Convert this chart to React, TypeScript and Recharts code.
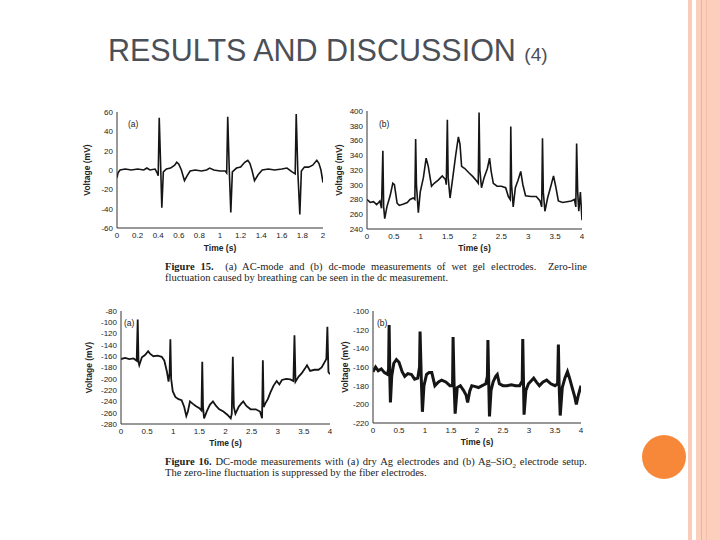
import { LineChart, Line, XAxis, YAxis } from 'recharts';

// Figure 15 (a): AC-mode, wet gel electrodes
const acTime = [0, 0.01, 0.03, 0.08, 0.14, 0.2, 0.26, 0.29, 0.32, 0.37, 0.39, 0.4, 0.41, 0.425, 0.435, 0.45, 0.48, 0.52, 0.56, 0.58, 0.6, 0.625, 0.655, 0.68, 0.71, 0.76, 0.82, 0.87, 0.9, 0.94, 1.0, 1.05, 1.065, 1.075, 1.09, 1.105, 1.12, 1.16, 1.2, 1.24, 1.27, 1.29, 1.31, 1.335, 1.37, 1.41, 1.47, 1.53, 1.6, 1.65, 1.7, 1.73, 1.74, 1.755, 1.775, 1.79, 1.82, 1.86, 1.9, 1.94, 1.96, 1.98, 2.0];
const acVolt = [-8, -3, 0, 1, 0, 1, 0, 2, 0, 1, -3, -6, 54, 0, -39, -2, 1, 2, 5, 8, 6, 0, -11, -6, -1, 0, -1, 0, 2, 0, -1, -1, -3, 55, 0, -44, -2, 2, 3, 8, 10, 7, 0, -11, -5, 0, 1, 0, 1, 2, -2, -4, 58, 0, -46, -1, 3, 3, 5, 10, 7, 0, -13];

// Figure 15 (b): dc-mode, wet gel electrodes
const dcTime = [0, 0.06, 0.12, 0.18, 0.24, 0.27, 0.295, 0.31, 0.33, 0.37, 0.43, 0.48, 0.51, 0.56, 0.6, 0.68, 0.75, 0.8, 0.86, 0.89, 0.905, 0.92, 0.955, 0.99, 1.05, 1.1, 1.14, 1.2, 1.25, 1.32, 1.4, 1.46, 1.475, 1.495, 1.51, 1.545, 1.6, 1.65, 1.7, 1.73, 1.76, 1.82, 1.9, 1.97, 2.04, 2.07, 2.085, 2.1, 2.13, 2.18, 2.24, 2.28, 2.31, 2.35, 2.42, 2.5, 2.58, 2.63, 2.665, 2.675, 2.69, 2.72, 2.76, 2.81, 2.86, 2.9, 2.95, 3.05, 3.15, 3.22, 3.25, 3.265, 3.28, 3.31, 3.36, 3.42, 3.47, 3.51, 3.56, 3.64, 3.72, 3.8, 3.86, 3.885, 3.9, 3.92, 3.94, 3.97, 4.0];
const dcVolt = [280, 276, 277, 273, 278, 268, 346, 270, 254, 270, 285, 302, 300, 275, 272, 274, 276, 280, 282, 280, 362, 300, 262, 290, 310, 336, 325, 298, 302, 306, 312, 307, 300, 388, 310, 282, 312, 340, 365, 355, 325, 322, 316, 311, 305, 302, 398, 320, 296, 310, 322, 336, 318, 302, 298, 298, 296, 284, 280, 379, 300, 270, 296, 306, 318, 300, 285, 284, 284, 278, 270, 363, 290, 264, 282, 298, 312, 298, 278, 276, 277, 278, 280, 270, 356, 290, 264, 290, 252];

// Figure 16 (a): dry Ag electrodes
const agTime = [0, 0.08, 0.16, 0.24, 0.3, 0.32, 0.335, 0.35, 0.4, 0.46, 0.52, 0.56, 0.62, 0.7, 0.78, 0.83, 0.88, 0.91, 0.93, 0.945, 0.96, 0.99, 1.04, 1.1, 1.16, 1.21, 1.25, 1.28, 1.32, 1.37, 1.43, 1.5, 1.54, 1.555, 1.57, 1.59, 1.64, 1.7, 1.76, 1.82, 1.88, 1.96, 2.04, 2.1, 2.12, 2.14, 2.16, 2.19, 2.25, 2.3, 2.34, 2.4, 2.48, 2.58, 2.66, 2.7, 2.715, 2.73, 2.76, 2.81, 2.86, 2.92, 2.98, 3.03, 3.08, 3.16, 3.24, 3.3, 3.32, 3.34, 3.4, 3.46, 3.52, 3.56, 3.62, 3.7, 3.78, 3.84, 3.9, 3.93, 3.95, 3.97, 4.0];
const agVolt = [-165, -163, -165, -164, -168, -95, -170, -176, -162, -158, -151, -156, -160, -159, -161, -168, -188, -205, -190, -130, -200, -222, -232, -236, -238, -250, -266, -258, -240, -244, -248, -252, -256, -170, -250, -270, -258, -246, -240, -248, -254, -258, -264, -270, -262, -161, -250, -262, -250, -244, -240, -248, -254, -254, -258, -270, -167, -250, -244, -236, -224, -212, -204, -210, -202, -200, -201, -204, -123, -205, -196, -190, -182, -176, -186, -184, -184, -180, -170, -165, -108, -188, -192];

// Figure 16 (b): Ag-SiO2 electrode setup
const sioTime = [0, 0.05, 0.1, 0.16, 0.22, 0.28, 0.3, 0.31, 0.325, 0.335, 0.36, 0.4, 0.45, 0.5, 0.56, 0.61, 0.67, 0.74, 0.8, 0.86, 0.895, 0.905, 0.93, 0.95, 0.98, 1.03, 1.08, 1.13, 1.19, 1.26, 1.32, 1.4, 1.48, 1.53, 1.54, 1.56, 1.58, 1.62, 1.68, 1.74, 1.79, 1.82, 1.86, 1.9, 1.97, 2.03, 2.1, 2.17, 2.2, 2.21, 2.225, 2.24, 2.27, 2.31, 2.36, 2.39, 2.43, 2.5, 2.58, 2.66, 2.74, 2.82, 2.87, 2.88, 2.895, 2.905, 2.94, 2.99, 3.04, 3.09, 3.14, 3.2, 3.27, 3.34, 3.42, 3.5, 3.55, 3.565, 3.58, 3.6, 3.64, 3.69, 3.74, 3.78, 3.83, 3.88, 3.91, 3.95, 4.0];
const sioVolt = [-165, -160, -164, -162, -166, -168, -162, -115, -175, -198, -170, -156, -152, -155, -165, -170, -167, -168, -173, -172, -160, -122, -175, -208, -180, -168, -166, -166, -180, -176, -174, -176, -180, -180, -128, -180, -210, -182, -180, -185, -190, -198, -186, -180, -181, -182, -180, -178, -170, -131, -175, -213, -185, -176, -170, -168, -178, -180, -180, -179, -180, -180, -175, -130, -180, -211, -185, -178, -175, -172, -176, -180, -176, -174, -178, -180, -178, -136, -180, -212, -182, -172, -165, -172, -182, -192, -200, -190, -180];

const ticks2s = [0, 0.2, 0.4, 0.6, 0.8, 1, 1.2, 1.4, 1.6, 1.8, 2];
const ticks4s = [0, 0.5, 1, 1.5, 2, 2.5, 3, 3.5, 4];
const acTicks = [-60, -40, -20, 0, 20, 40, 60];
const dcTicks = [240, 260, 280, 300, 320, 340, 360, 380, 400];
const agTicks = [-280, -260, -240, -220, -200, -180, -160, -140, -120, -100, -80];
const sioTicks = [-220, -200, -180, -160, -140, -120, -100];

const sans = '"Liberation Sans", Arial, sans-serif';
const serif = '"Liberation Serif", "Times New Roman", serif';
const tickFont = { fontSize: 8, fill: '#222', fontFamily: sans };
const labelFont = { fontSize: 8.5, fill: '#222', fontFamily: sans, fontWeight: 'bold', textAnchor: 'middle' };

interface PanelProps {
  time: number[];
  volt: number[];
  xTicks: number[];
  yTicks: number[];
  left: number;
  top: number;
  width: number;
  height: number;
  marginTop: number;
  marginRight: number;
  yWidth: number;
  xHeight: number;
  yLabelOffset: number;
  xLabelOffset: number;
  lineWidth: number;
  tag: string;
  tagX: number;
  tagY: number;
}

function Panel(p: PanelProps) {
  const data = p.time.map((t, i) => ({ t, v: p.volt[i] }));
  const xDom = [p.xTicks[0], p.xTicks[p.xTicks.length - 1]];
  const yDom = [p.yTicks[0], p.yTicks[p.yTicks.length - 1]];
  const frame = { stroke: '#333', strokeWidth: 1 };
  return (
    <>
      <div style={{ position: 'absolute', left: p.left, top: p.top, width: p.width, height: p.height }}>
        <LineChart
          width={p.width}
          height={p.height}
          data={data}
          margin={{ top: p.marginTop, right: p.marginRight, left: 0, bottom: 0 }}
        >
          <XAxis
            dataKey="t"
            type="number"
            domain={xDom}
            ticks={p.xTicks}
            interval={0}
            allowDataOverflow
            tick={tickFont}
            tickLine={false}
            tickSize={0}
            tickMargin={4}
            axisLine={frame}
            height={p.xHeight}
            label={{ value: 'Time (s)', position: 'insideBottom', offset: p.xLabelOffset, style: labelFont }}
          />
          <XAxis xAxisId="top" orientation="top" type="number" domain={xDom} height={0} tick={false} tickLine={false} axisLine={frame} />
          <YAxis
            type="number"
            domain={yDom}
            ticks={p.yTicks}
            interval={0}
            allowDataOverflow
            tick={tickFont}
            tickLine={false}
            tickSize={0}
            tickMargin={4}
            axisLine={frame}
            width={p.yWidth}
            label={{ value: 'Voltage (mV)', angle: -90, position: 'insideLeft', offset: p.yLabelOffset, style: labelFont }}
          />
          <YAxis yAxisId="right" orientation="right" type="number" domain={yDom} width={0} tick={false} tickLine={false} axisLine={frame} />
          <Line
            type="linear"
            dataKey="v"
            stroke="#151515"
            strokeWidth={p.lineWidth}
            dot={false}
            isAnimationActive={false}
          />
        </LineChart>
      </div>
      <div style={{ position: 'absolute', left: p.tagX, top: p.tagY, fontSize: 8.5, fontFamily: sans, color: '#222' }}>{p.tag}</div>
    </>
  );
}

export default function App() {
  return (
    <div style={{ position: 'absolute', left: 0, top: 0, width: 720, height: 540, background: '#fff', overflow: 'hidden', fontFamily: sans }}>
      {/* slide decoration */}
      <div style={{ position: 'absolute', left: 688, top: 0, width: 4, height: 540, background: '#f9cbb8' }} />
      <div style={{ position: 'absolute', left: 696, top: 0, width: 24, height: 540, background: '#fccfbd' }} />
      <div style={{ position: 'absolute', left: 701, top: 0, width: 1, height: 540, background: '#f3b096' }} />
      <div style={{ position: 'absolute', left: 706, top: 0, width: 1, height: 540, background: '#f6bea8' }} />
      <div style={{ position: 'absolute', left: 642, top: 435, width: 44, height: 44, borderRadius: 22, background: '#f7883a' }} />

      <div style={{ position: 'absolute', left: 108, top: 32, whiteSpace: 'nowrap', color: '#4b5058', fontSize: 30.5, lineHeight: '36px' }}>
        RESULTS AND DISCUSSION <span style={{ fontSize: 19 }}>(4)</span>
      </div>

      <Panel time={acTime} volt={acVolt} xTicks={ticks2s} yTicks={acTicks}
        left={80} top={100} width={250} height={160} marginTop={12} marginRight={7}
        yWidth={37} xHeight={32} yLabelOffset={7} xLabelOffset={9} lineWidth={1.6}
        tag="(a)" tagX={128} tagY={119} />
      <Panel time={dcTime} volt={dcVolt} xTicks={ticks4s} yTicks={dcTicks}
        left={330} top={100} width={255} height={160} marginTop={11} marginRight={3}
        yWidth={37} xHeight={31} yLabelOffset={9} xLabelOffset={9} lineWidth={1.6}
        tag="(b)" tagX={379} tagY={119} />
      <Panel time={agTime} volt={agVolt} xTicks={ticks4s} yTicks={agTicks}
        left={80} top={298} width={252} height={160} marginTop={13} marginRight={2}
        yWidth={41} xHeight={34} yLabelOffset={9} xLabelOffset={12} lineWidth={1.8}
        tag="(a)" tagX={124} tagY={318} />
      <Panel time={sioTime} volt={sioVolt} xTicks={ticks4s} yTicks={sioTicks}
        left={330} top={298} width={253} height={160} marginTop={13} marginRight={2}
        yWidth={43} xHeight={35} yLabelOffset={15} xLabelOffset={13} lineWidth={3}
        tag="(b)" tagX={377} tagY={318} />

      <div style={{ position: 'absolute', left: 165, top: 261, width: 422, fontFamily: serif, fontSize: 10.5, lineHeight: '11px', color: '#222' }}>
        <div style={{ textAlign: 'justify', textAlignLast: 'justify' }}>
          <b>Figure 15.</b>&nbsp; (a) AC-mode and (b) dc-mode measurements of wet gel electrodes.&nbsp; Zero-line
        </div>
        <div>fluctuation caused by breathing can be seen in the dc measurement.</div>
      </div>
      <div style={{ position: 'absolute', left: 165, top: 456, width: 422, fontFamily: serif, fontSize: 10.5, lineHeight: '11px', color: '#222' }}>
        <div style={{ textAlign: 'justify', textAlignLast: 'justify' }}>
          <b>Figure 16.</b> DC-mode measurements with (a) dry Ag electrodes and (b) Ag–SiO<sub style={{ fontSize: 7, lineHeight: 0 }}>2</sub> electrode setup.
        </div>
        <div>The zero-line fluctuation is suppressed by the fiber electrodes.</div>
      </div>
    </div>
  );
}
